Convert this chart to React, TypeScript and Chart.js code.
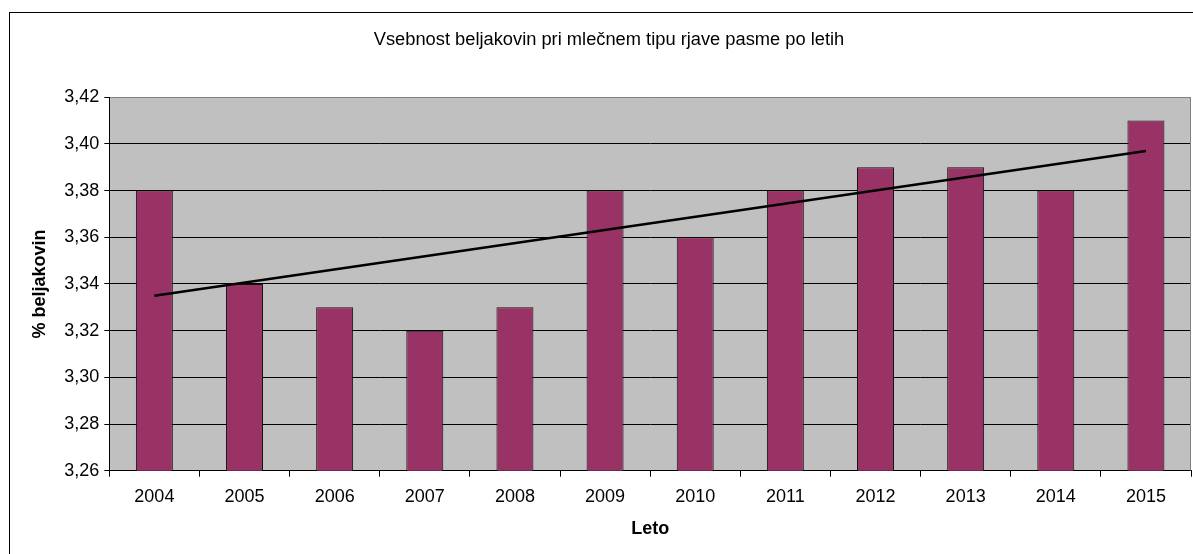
import React, { useEffect, useRef } from "react";
import { Chart, registerables } from "chart.js";

Chart.register(...registerables);

const TITLE = "Vsebnost beljakovin pri mlečnem tipu rjave pasme po letih";
const X_TITLE = "Leto";
const Y_TITLE = "% beljakovin";
const YEARS = ["2004", "2005", "2006", "2007", "2008", "2009", "2010", "2011", "2012", "2013", "2014", "2015"];
const PROTEIN = [3.38, 3.34, 3.33, 3.32, 3.33, 3.38, 3.36, 3.38, 3.39, 3.39, 3.38, 3.41];
// trend line end points (2004 and 2015)
const TREND = [3.335, null, null, null, null, null, null, null, null, null, null, 3.397];
const Y_TICKS = [3.26, 3.28, 3.3, 3.32, 3.34, 3.36, 3.38, 3.4, 3.42];

const FONT = "'Liberation Sans', Arial, sans-serif";

export default function App() {
  const ref = useRef<HTMLCanvasElement | null>(null);

  useEffect(() => {
    if (!ref.current) return;
    const plotBg = {
      id: "plotBg",
      beforeDraw(chart: any) {
        const { ctx, chartArea: a } = chart;
        ctx.save();
        ctx.fillStyle = "#C0C0C0";
        ctx.fillRect(a.left, a.top, a.right - a.left, a.bottom - a.top);
        ctx.restore();
      },
      beforeDatasetsDraw(chart: any) {
        const { ctx, chartArea: a } = chart;
        ctx.save();
        ctx.strokeStyle = "#808080";
        ctx.lineWidth = 1;
        ctx.beginPath();
        const x = Math.round(a.right) - 0.5;
        ctx.moveTo(x, Math.round(a.top) + 0.5);
        ctx.lineTo(x, a.bottom);
        ctx.stroke();
        ctx.restore();
      },
    };

    const chart = new Chart(ref.current, {
      type: "bar",
      data: {
        labels: YEARS,
        datasets: [
          {
            type: "line",
            data: TREND as any,
            borderColor: "#000000",
            borderWidth: 2.5,
            pointRadius: 0,
            spanGaps: true,
            fill: false,
            order: 0,
          } as any,
          {
            type: "bar",
            data: PROTEIN,
            backgroundColor: "#993366",
            borderColor: "#111111",
            borderWidth: 1,
            borderSkipped: false,
            barPercentage: 0.41,
            categoryPercentage: 1,
            order: 1,
          },
        ],
      },
      options: {
        responsive: false,
        animation: false,
        devicePixelRatio: 1,
        layout: { padding: { top: 0, left: 0, right: 0, bottom: 0 } },
        plugins: {
          legend: { display: false },
          tooltip: { enabled: false },
          title: {
            display: true,
            text: TITLE,
            color: "#000",
            font: { family: FONT, size: 18.3, weight: "normal" },
            padding: { top: 29, bottom: 46.3 },
          },
        },
        scales: {
          x: {
            offset: true,
            grid: {
              display: true,
              drawOnChartArea: false,
              drawTicks: true,
              tickLength: 6,
              color: "#000",
              offset: true,
            },
            border: { display: true, color: "#000", width: 1 },
            ticks: { color: "#000", font: { family: FONT, size: 18 }, padding: 10, maxRotation: 0 },
            title: {
              display: true,
              text: X_TITLE,
              color: "#000",
              font: { family: FONT, size: 18, weight: "bold" },
              padding: { top: 0, bottom: 14 },
            },
            afterFit(scale: any) {
              scale.height = 83.3;
            },
          },
          y: {
            min: 3.26,
            max: 3.42,
            afterBuildTicks(scale: any) {
              scale.ticks = Y_TICKS.map((v) => ({ value: v }));
            },
            grid: {
              color: (c: any) => (c.tick && c.tick.value >= 3.4199 ? "#808080" : "#000"),
              tickColor: "#000",
              tickLength: 5,
              lineWidth: 1,
            },
            border: { display: true, color: "#000", width: 1 },
            ticks: {
              color: "#000",
              font: { family: FONT, size: 18 },
              padding: 5,
              callback: (v: any) => Number(v).toFixed(2).replace(".", ","),
            },
            title: {
              display: true,
              text: Y_TITLE,
              color: "#000",
              font: { family: FONT, size: 18, weight: "bold" },
              padding: { top: 29, bottom: 0 },
            },
            afterFit(scale: any) {
              scale.width = 109.3;
            },
          },
          spacer: {
            type: "linear",
            position: "right",
            display: true,
            grid: { display: false, drawTicks: false },
            border: { display: false },
            ticks: { display: false },
            afterFit(scale: any) {
              scale.width = 27;
            },
          } as any,
        },
      },
      plugins: [plotBg],
    });
    return () => chart.destroy();
  }, []);

  return (
    <div style={{ position: "fixed", left: 0, top: 0, width: 1193, height: 554, overflow: "hidden", background: "#fff" }}>
      <div
        style={{
          position: "absolute",
          left: 9,
          top: 12,
          width: 1300,
          height: 700,
          border: "1.5px solid #000",
          boxSizing: "border-box",
        }}
      />
      <canvas ref={ref} width={1218} height={554} style={{ position: "absolute", left: 0, top: 0 }} />
    </div>
  );
}
